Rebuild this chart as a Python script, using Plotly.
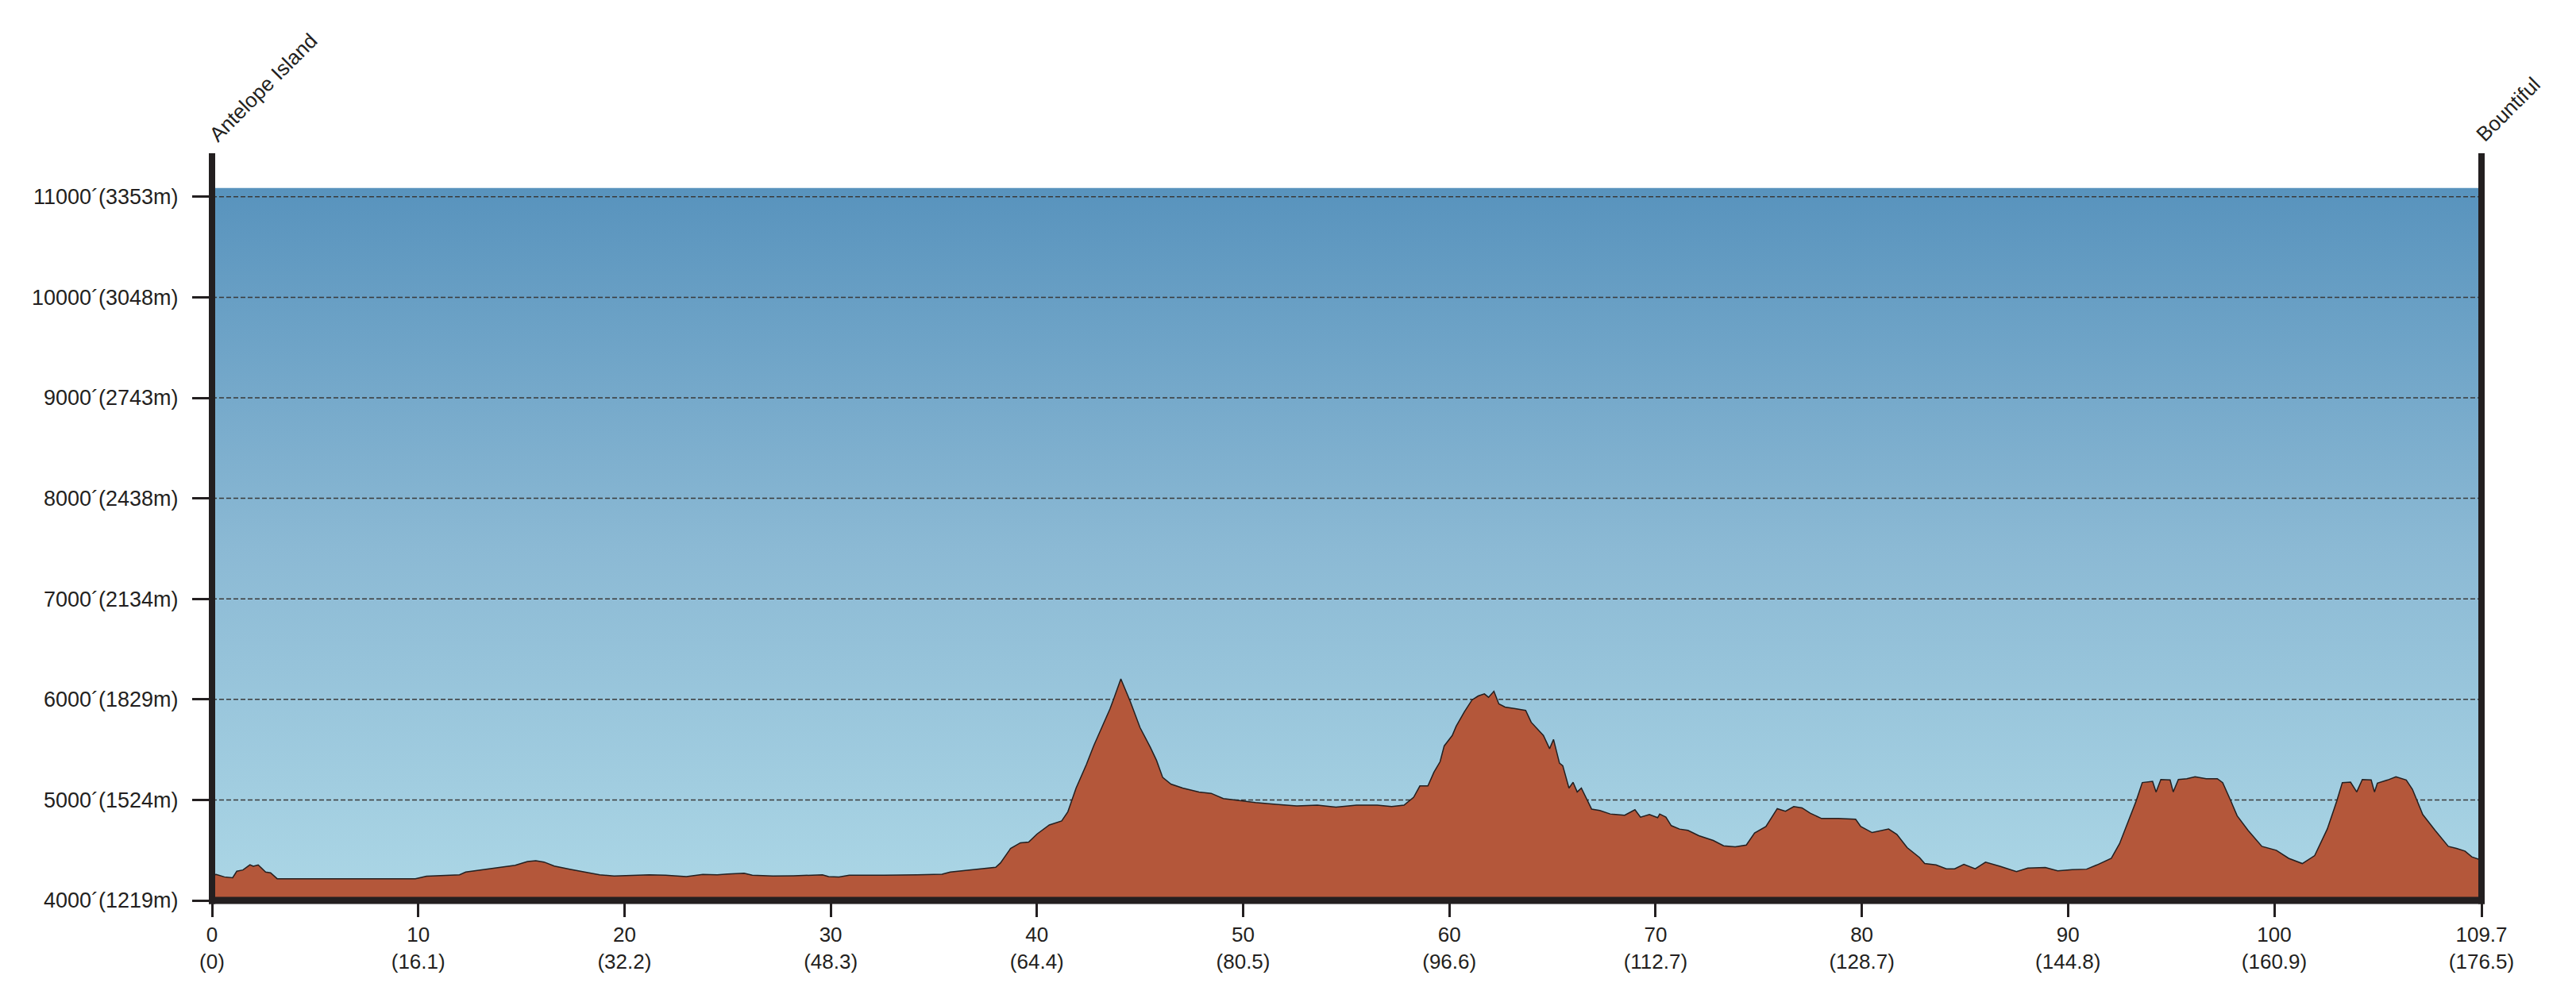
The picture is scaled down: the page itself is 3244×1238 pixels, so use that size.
import plotly.graph_objects as go

# ---------------- data ----------------
miles = [0.0, 0.2, 0.6, 1.0, 1.2, 1.5, 1.84, 2.0, 2.24, 2.6, 2.84, 3.16, 6.5, 9.86,
         10.4, 11.2, 12.0, 12.3, 13.1, 13.9, 14.7, 15.3, 15.7, 16.1, 16.6, 17.4,
         18.2, 18.8, 19.5, 20.4, 21.2, 22.0, 23.0, 23.8, 24.5, 25.0, 25.8, 26.2,
         27.2, 28.2, 29.6, 29.9, 30.4, 30.9, 31.8, 32.6, 34.2, 35.4, 35.8, 36.6,
         37.2, 38.0, 38.23, 38.72, 39.2, 39.6, 40.0, 40.6, 41.2, 41.5, 41.9, 42.4,
         42.75, 43.14, 43.54, 43.73, 44.07, 44.52, 45.0, 45.5, 45.8, 46.1, 46.5,
         47.07, 47.86, 48.45, 49.04, 49.6, 50.6, 51.6, 52.6, 53.6, 54.5, 55.5,
         56.5, 57.2, 57.8, 58.27, 58.57, 58.96, 59.25, 59.55, 59.75, 60.14, 60.33,
         60.73, 61.1, 61.4, 61.7, 61.9, 62.16, 62.4, 62.7, 63.2, 63.7, 63.97,
         64.56, 64.86, 65.05, 65.34, 65.5, 65.8, 66.0, 66.2, 66.4, 66.9, 67.3,
         67.8, 68.5, 69.0, 69.27, 69.7, 70.1, 70.2, 70.5, 70.76, 71.16, 71.57,
         72.1, 72.8, 73.3, 73.86, 74.4, 74.8, 75.35, 75.9, 76.3, 76.7, 77.1, 77.5,
         78.05, 78.86, 79.7, 79.95, 80.5, 81.3, 81.7, 82.2, 82.8, 83.05, 83.6,
         84.1, 84.5, 84.95, 85.5, 86.0, 86.7, 87.5, 88.05, 88.9, 89.5, 90.2, 90.9,
         91.4, 92.1, 92.5, 92.9, 93.3, 93.6, 93.86, 94.1, 94.27, 94.5, 94.95, 95.1,
         95.35, 95.76, 96.16, 96.7, 97.24, 97.5, 97.9, 98.2, 98.73, 99.4, 100.1,
         100.7, 101.36, 101.96, 102.57, 103.03, 103.3, 103.7, 104.0, 104.27, 104.7,
         104.86, 105.0, 105.5, 105.9, 106.4, 106.7, 107.2, 107.8, 108.44, 108.84,
         109.25, 109.58, 110.05]
elev_ft = [4255, 4258, 4234, 4226, 4290, 4303, 4355, 4340, 4353, 4282, 4274, 4216, 4216, 4216,
           4240, 4247, 4255, 4282, 4303, 4324, 4350, 4387, 4395, 4382, 4342, 4308,
           4276, 4255, 4242, 4250, 4255, 4250, 4237, 4258, 4255, 4263, 4271, 4250,
           4242, 4245, 4255, 4237, 4234, 4250, 4253, 4250, 4255, 4260, 4282, 4297,
           4313, 4329, 4372, 4516, 4573, 4581, 4660, 4751, 4791, 4882, 5118, 5353,
           5537, 5720, 5903, 6008, 6204, 5982, 5720, 5524, 5393, 5223, 5157,
           5118, 5079, 5065, 5013, 5000, 4974, 4955, 4940, 4948, 4929, 4948,
           4948, 4935, 4948, 5026, 5139, 5139, 5275, 5380, 5537, 5641, 5733,
           5877, 5995, 6034, 6055, 6021, 6081, 5955, 5924, 5908, 5890, 5772,
           5641, 5510, 5602, 5366, 5340, 5118, 5175, 5079, 5118, 4908, 4895,
           4860, 4847, 4902, 4828, 4855, 4823, 4860, 4828, 4744, 4710, 4697,
           4644, 4596, 4543, 4533, 4551, 4670, 4736, 4913, 4887, 4934, 4921, 4868,
           4815, 4815, 4807, 4736, 4675, 4710, 4657, 4525, 4427, 4367, 4353,
           4314, 4314, 4359, 4314, 4380, 4340, 4287, 4322, 4327, 4295, 4306, 4311,
           4353, 4419, 4565, 4776, 4987, 5172, 5180, 5185, 5079, 5203, 5198, 5079,
           5203, 5211, 5230, 5211, 5211, 5172, 4987, 4842, 4697, 4538, 4499,
           4419, 4367, 4446, 4710, 4987, 5172, 5177, 5079, 5203, 5198,
           5079, 5167, 5198, 5230, 5198, 5106, 4855, 4697, 4538, 4517,
           4491, 4433, 4400]

x_tick_vals = [0, 10, 20, 30, 40, 50, 60, 70, 80, 90, 100, 110.05]
x_tick_text = ["0<br>(0)", "10<br>(16.1)", "20<br>(32.2)", "30<br>(48.3)", "40<br>(64.4)",
               "50<br>(80.5)", "60<br>(96.6)", "70<br>(112.7)", "80<br>(128.7)",
               "90<br>(144.8)", "100<br>(160.9)", "109.7<br>(176.5)"]
y_tick_vals = [4000, 5000, 6000, 7000, 8000, 9000, 10000, 11000]
y_tick_text = ["4000´(1219m)", "5000´(1524m)", "6000´(1829m)", "7000´(2134m)",
               "8000´(2438m)", "9000´(2743m)", "10000´(3048m)", "11000´(3353m)"]
grid_vals = [5000, 6000, 7000, 8000, 9000, 10000, 11000]
start_label = "Antelope Island"
end_label = "Bountiful"

x_end = 110.05
y_min, y_max = 4000, 11433
sky_top = 11087

FONT = "Liberation Sans, Arial, Helvetica, sans-serif"
DARK = "#231f20"

fig = go.Figure()

# sky gradient background
fig.add_trace(go.Scatter(
    x=[0, x_end, x_end, 0, 0], y=[y_min, y_min, sky_top, sky_top, y_min],
    mode="none", fill="toself",
    fillgradient=dict(type="vertical",
                      colorscale=[[0, "#acd7e6"], [0.5, "#8bb9d4"], [1, "#5893bd"]],
                      start=y_min, stop=sky_top),
    hoverinfo="skip", showlegend=False))

# dashed gridlines
gx, gy = [], []
for v in grid_vals:
    gx += [0, x_end, None]
    gy += [v, v, None]
fig.add_trace(go.Scatter(x=gx, y=gy, mode="lines",
                         line=dict(color="#3a3a3a", width=1.5, dash="6px,3px"),
                         hoverinfo="skip", showlegend=False))

# elevation profile
fig.add_trace(go.Scatter(x=miles, y=elev_ft, mode="lines", fill="tozeroy",
                         fillcolor="#b4573a", line=dict(color=DARK, width=1.5),
                         hoverinfo="skip", showlegend=False))

shapes = [
    dict(type="line", xref="paper", yref="paper", x0=0, x1=0, y0=-0.0048, y1=1,
         line=dict(color=DARK, width=8)),
    dict(type="line", xref="paper", yref="paper", x0=1, x1=1, y0=-0.0048, y1=1,
         line=dict(color=DARK, width=8)),
    dict(type="line", xref="paper", yref="paper", x0=-0.0014, x1=1.0014, y0=0, y1=0,
         line=dict(color=DARK, width=9)),
]

annotations = [
    dict(x=0, y=1, xref="paper", yref="paper", text=start_label, showarrow=False,
         textangle=-45, xanchor="left", yanchor="bottom", xshift=-12, yshift=6,
         font=dict(family=FONT, size=26, color=DARK)),
    dict(x=1, y=1, xref="paper", yref="paper", text=end_label, showarrow=False,
         textangle=-45, xanchor="left", yanchor="bottom", xshift=-16, yshift=6,
         font=dict(family=FONT, size=26, color=DARK)),
]

fig.update_layout(
    width=3244, height=1238,
    margin=dict(l=267, r=119, t=193, b=100),
    paper_bgcolor="white", plot_bgcolor="white",
    shapes=shapes, annotations=annotations,
    showlegend=False,
    xaxis=dict(range=[0, x_end], tickmode="array", tickvals=x_tick_vals,
               ticktext=x_tick_text, ticks="outside", ticklen=20, tickwidth=2.5,
               tickcolor=DARK, showgrid=False, zeroline=False, showline=False,
               tickfont=dict(family=FONT, size=26, color=DARK)),
    yaxis=dict(range=[y_min, y_max], tickmode="array", tickvals=y_tick_vals,
               ticktext=y_tick_text, ticks="outside", ticklen=24, tickwidth=2.5,
               tickcolor=DARK, showgrid=False, zeroline=False, showline=False,
               ticklabelstandoff=12,
               tickfont=dict(family=FONT, size=27, color=DARK)),
)

fig.write_html("out.html", config={"displayModeBar": False},
               post_script="document.body.style.margin='0';document.body.style.padding='0';")
